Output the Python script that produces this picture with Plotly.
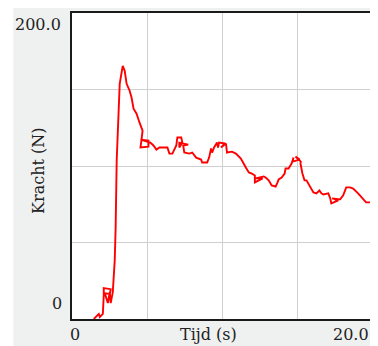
import plotly.graph_objects as go

# Time (s) and force (N) (the small loops are part of the recording)
tijd = [1.45, 1.78, 1.85, 2.05, 2.11, 2.11, 2.57, 2.51, 2.18, 2.38, 2.51, 2.57, 2.71, 2.84, 2.90, 2.97,
        3.17, 3.37, 3.50, 3.63, 3.83, 3.96, 4.09, 4.29, 4.49, 4.69,
        4.62, 4.55, 5.08, 5.08, 4.55, 5.21,
        5.41, 5.61, 5.81, 6.14, 6.34, 6.47, 6.67, 6.93, 7.00, 7.26,
        7.33, 7.13, 7.13, 7.72, 7.39,
        7.46, 7.79, 7.99, 8.25, 8.58, 8.65, 8.98, 9.11, 9.24, 9.31, 9.44, 9.64,
        9.70, 9.77, 10.17, 9.90,
        10.23, 10.30, 10.63, 10.89, 11.22, 11.55, 11.75, 11.95,
        12.15, 12.15, 12.67, 12.21, 12.74,
        12.87, 13.07, 13.27, 13.53, 13.66, 13.73, 13.93, 14.13, 14.19, 14.39, 14.59, 14.72,
        14.65, 15.13, 14.85, 15.20,
        15.18, 15.31, 15.45, 15.58, 15.84, 16.04, 16.24, 16.44, 16.57, 16.70, 17.03, 17.16,
        17.23, 17.69, 17.29, 17.76,
        17.82, 18.02, 18.22, 18.48, 18.68, 19.01, 19.34, 19.54, 20.0]
kracht = [0.0, 3.3, 1.3, 3.3, 15.6, 20.2, 19.5, 16.3, 16.9, 10.4, 17.6, 10.4, 17.6, 38.4, 59.9, 103.6,
          153.7, 165.5, 162.2, 153.7, 149.2, 144.6, 137.5, 134.2, 128.3, 123.1,
          117.2, 112.1, 112.7, 116.6, 117.2, 115.3,
          113.4, 110.7, 112.1, 112.1, 112.1, 108.1, 108.1, 113.4, 118.6, 118.6,
          115.3, 112.1, 115.3, 114.0, 113.4,
          108.8, 108.1, 108.8, 105.5, 104.2, 102.3, 102.3, 105.5, 111.4, 108.8, 112.1, 115.3,
          112.1, 115.3, 114.7, 112.1,
          114.7, 108.8, 109.4, 108.1, 104.9, 99.0, 95.8, 95.1,
          93.8, 89.3, 91.9, 91.9, 93.2,
          92.5, 90.6, 87.3, 86.6, 89.3, 91.2, 92.5, 95.1, 98.4, 98.4, 101.6, 105.5,
          102.9, 104.2, 106.2, 102.9,
          101.6, 95.1, 90.6, 90.6, 86.0, 82.7, 82.1, 84.0, 82.1, 81.4, 82.1, 78.8,
          75.6, 77.5, 78.8, 78.2,
          78.2, 80.8, 86.0, 86.0, 85.3, 82.1, 78.2, 76.2, 76.2]

x_range = [0, 20]
y_range = [0, 200]
x_label = "Tijd (s)"
y_label = "Kracht (N)"
x_min_label, x_max_label = "0", "20.0"
y_min_label, y_max_label = "0", "200.0"

FONT = "DejaVu Serif"
TXT = "#222222"
GREY = "#eff0f0"

fig = go.Figure()
fig.add_trace(go.Scatter(x=tijd, y=kracht, mode="lines",
                         line=dict(color="#ff0000", width=1.9), hoverinfo="skip"))

axis_common = dict(showticklabels=False, ticks="", showgrid=True,
                   gridcolor="#cfcfcf", gridwidth=1.2, zeroline=False,
                   showline=True, linecolor="#1a1a1a", linewidth=2, mirror=True)
fig.update_xaxes(range=x_range, dtick=5, **axis_common)
fig.update_yaxes(range=y_range, dtick=50, **axis_common)

# white strip left of the grey panel
fig.add_shape(type="rect", xref="paper", yref="paper", x0=-0.25, x1=-0.195,
              y0=-0.2, y1=1.2, fillcolor="white", line=dict(width=0), layer="below")

ann = dict(showarrow=False, font=dict(family=FONT, size=16, color=TXT))
fig.add_annotation(text=y_max_label, xref="paper", yref="paper", x=-0.03, y=0.963,
                   xanchor="right", yanchor="middle", **ann)
fig.add_annotation(text=y_min_label, xref="paper", yref="paper", x=-0.025, y=0.052,
                   xanchor="right", yanchor="middle", **ann)
fig.add_annotation(text=x_min_label, xref="paper", yref="paper", x=0.01, y=-0.052,
                   xanchor="center", yanchor="middle", **ann)
fig.add_annotation(text=x_max_label, xref="paper", yref="paper", x=0.995, y=-0.052,
                   xanchor="right", yanchor="middle", **ann)
fig.add_annotation(text=x_label, xref="paper", yref="paper", x=0.452, y=-0.052,
                   xanchor="center", yanchor="middle", **ann)
fig.add_annotation(text=y_label, xref="paper", yref="paper", x=-0.112, y=0.485,
                   xanchor="center", yanchor="middle", textangle=-90, **ann)

# page body adds an 8px offset, so the figure is 8px smaller than the window
fig.update_layout(width=370, height=338, margin=dict(l=64, r=3, t=4, b=27),
                  plot_bgcolor="white", paper_bgcolor=GREY, showlegend=False)

fig.write_html("out.html")
